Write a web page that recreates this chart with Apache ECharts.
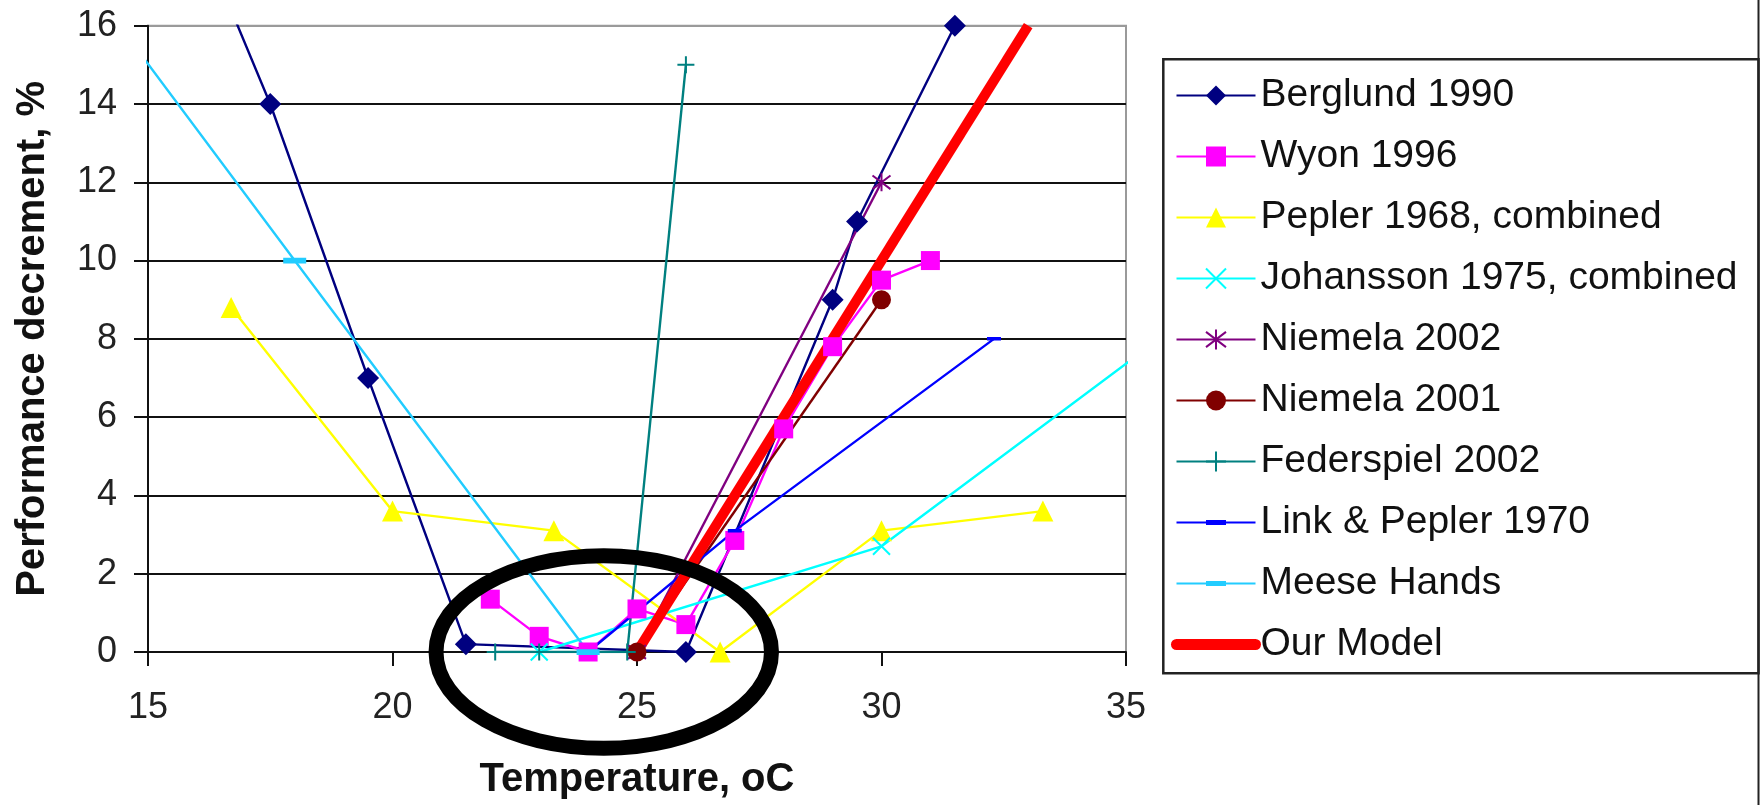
<!DOCTYPE html>
<html>
<head>
<meta charset="utf-8">
<script src="https://cdn.jsdelivr.net/npm/echarts@6/dist/echarts.min.js"></script>
<style>
  html, body { margin: 0; padding: 0; background: #fff; }
  #chart { width: 1760px; height: 805px; }
</style>
</head>
<body>
<div id="chart"></div>
<script>
// ---- Data ----
const xRange = [15, 35];
const xInterval = 5;
const yRange = [0, 16];
const yInterval = 2;

const seriesNames = [
  'Berglund 1990', 'Wyon 1996', 'Pepler 1968, combined', 'Johansson 1975, combined',
  'Niemela 2002', 'Niemela 2001', 'Federspiel 2002', 'Link & Pepler 1970',
  'Meese Hands', 'Our Model'
];

const berglund1990 = [[16.5, 17], [17.5, 14], [19.5, 7], [21.5, 0.2], [26, 0], [29, 9], [29.5, 11], [31.5, 16]];
const wyon1996 = [[22, 1.35], [23, 0.4], [24, 0], [25, 1.1], [26, 0.7], [27, 2.85], [28, 5.7], [29, 7.8], [30, 9.5], [31, 10]];
const pepler1968 = [[16.7, 8.8], [20, 3.6], [23.3, 3.1], [26.7, 0], [30, 3.1], [33.3, 3.6]];
const johansson1975 = [[23, 0], [30, 2.7], [36, 8.3]];
const niemela2002 = [[25, 0], [30, 12]];
const niemela2001 = [[25, 0], [30, 9]];
const federspiel2002 = [[22.1, 0], [23, 0], [24.8, 0], [26, 15]];
const linkPepler1970 = [[24, 0], [27, 3.1], [32.3, 8]];
const meeseHands = [[14, 16.7], [18, 10], [24, 0]];
const ourModel = [[25, 0], [33, 16]];

// annotation ellipse (in data units)
const ellipseCenter = [24.32, 0];
const ellipseRadii = [3.43, 2.46];

// ---- Styling ----
const FONT = "'Liberation Sans', Arial, Helvetica, sans-serif";
const X_PATH = 'path://M0,0L10,10M10,0L0,10';
const PLUS_PATH = 'path://M5,0L5,10M0,5L10,5';
const STAR_PATH = 'path://M5,0L5,10M1.2,1.2L8.8,8.8M8.8,1.2L1.2,8.8';
const DASH_PATH = 'path://M0,0h0.01v0.01h-0.01zM19.99,19.99h0.01v0.01h-0.01zM0,7.5h20v5h-20z';

function lineSeries(name, data, color, symbol, size, opts) {
  const s = {
    name: name,
    type: 'line',
    data: data,
    symbol: symbol,
    symbolSize: size,
    showAllSymbol: true,
    clip: true,
    color: color,
    lineStyle: { color: color, width: 2.4 },
    itemStyle: { color: color },
    emphasis: { disabled: true },
    animation: false
  };
  return Object.assign(s, opts || {});
}

const strokeStyle = (c) => ({ itemStyle: { color: c, borderColor: c, borderWidth: 2 } });

const series = [
  lineSeries(seriesNames[0], berglund1990, '#000080', 'diamond', 22),
  lineSeries(seriesNames[1], wyon1996, '#FF00FF', 'rect', 19),
  lineSeries(seriesNames[2], pepler1968, '#FFFF00', 'triangle', 21),
  lineSeries(seriesNames[3], johansson1975, '#00FFFF', X_PATH, 17, strokeStyle('#00FFFF')),
  lineSeries(seriesNames[4], niemela2002, '#800080', STAR_PATH, 18, strokeStyle('#800080')),
  lineSeries(seriesNames[5], niemela2001, '#800000', 'circle', 19),
  lineSeries(seriesNames[6], federspiel2002, '#008080', PLUS_PATH, 17, strokeStyle('#008080')),
  lineSeries(seriesNames[7], linkPepler1970, '#0000FF', DASH_PATH, 14),
  lineSeries(seriesNames[8], meeseHands, '#22CCFF', DASH_PATH, 23),
  lineSeries(seriesNames[9], ourModel, '#FF0000', 'none', 0, { lineStyle: { color: '#FF0000', width: 10 } })
];

const gridColors = [];
for (let v = yRange[0]; v <= yRange[1]; v += yInterval) gridColors.push(v === yRange[1] ? '#9a9a9a' : '#111');

const chart = echarts.init(document.getElementById('chart'), null, { renderer: 'canvas' });

const option = {
  animation: false,
  backgroundColor: '#fff',
  textStyle: { fontFamily: FONT },
  grid: {
    left: 148, right: 634, top: 25.7, bottom: 152,
    show: true, borderColor: '#9a9a9a', borderWidth: 2, backgroundColor: 'transparent'
  },
  xAxis: {
    type: 'value',
    min: xRange[0], max: xRange[1], interval: xInterval,
    name: 'Temperature, oC',
    nameLocation: 'middle',
    nameGap: 108,
    nameTextStyle: { fontSize: 40, fontWeight: 'bold', color: '#111', fontFamily: FONT },
    axisLine: { show: true, onZero: false, lineStyle: { color: '#111', width: 2 } },
    axisTick: { show: true, length: 14, lineStyle: { color: '#111', width: 2 } },
    axisLabel: { fontSize: 36, color: '#222', margin: 38, fontFamily: FONT },
    splitLine: { show: false }
  },
  yAxis: {
    type: 'value',
    min: yRange[0], max: yRange[1], interval: yInterval,
    name: 'Performance decrement, %',
    nameLocation: 'middle',
    nameGap: 95,
    nameTextStyle: { fontSize: 40, fontWeight: 'bold', color: '#111', fontFamily: FONT },
    axisLine: { show: true, lineStyle: { color: '#111', width: 2 } },
    axisTick: { show: true, length: 14, lineStyle: { color: '#111', width: 2 } },
    axisLabel: { fontSize: 36, color: '#222', margin: 31, fontFamily: FONT },
    splitLine: { show: true, lineStyle: { color: gridColors, width: 2 } }
  },
  legend: {
    orient: 'vertical',
    left: 1163, top: 59,
    padding: [17, 10, 10, 8],
    itemWidth: 79,
    itemHeight: 25,
    itemGap: 22,
    selectedMode: false,
    textStyle: { fontSize: 39, color: '#111', fontFamily: FONT },
    data: seriesNames.map(n => n === 'Our Model'
      ? { name: n, itemStyle: { opacity: 0 }, lineStyle: { width: 11, color: '#FF0000', cap: 'round' } }
      : { name: n })
  },
  series: series
};

chart.setOption(option);

// Annotation ellipse and frame lines placed after the scales exist
const c = chart.convertToPixel({ gridIndex: 0 }, ellipseCenter);
const e = chart.convertToPixel({ gridIndex: 0 }, [ellipseCenter[0] + ellipseRadii[0], ellipseCenter[1] + ellipseRadii[1]]);
chart.setOption({
  graphic: [
    {
      type: 'ellipse',
      shape: { cx: c[0], cy: c[1], rx: Math.abs(e[0] - c[0]), ry: Math.abs(c[1] - e[1]) },
      style: { fill: 'none', stroke: '#000', lineWidth: 15 },
      z: 100
    },
    {
      type: 'rect',
      shape: { x: 1163.3, y: 59.3, width: 1758.5 - 1163.3, height: 673.3 - 59.3 },
      style: { fill: 'none', stroke: '#222', lineWidth: 2.5 },
      z: 50
    },
    {
      type: 'line',
      shape: { x1: 1758.5, y1: 0, x2: 1758.5, y2: 805 },
      style: { stroke: '#222', lineWidth: 2 },
      z: 50
    }
  ]
});
</script>
</body>
</html>
